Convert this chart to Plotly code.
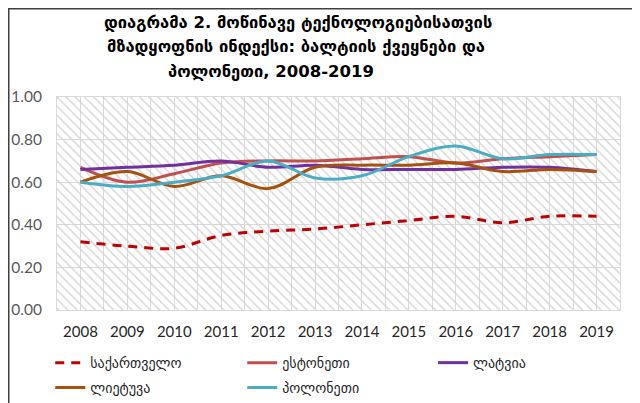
import plotly.graph_objects as go

years = [2008, 2009, 2010, 2011, 2012, 2013, 2014, 2015, 2016, 2017, 2018, 2019]

georgia = [0.32, 0.30, 0.29, 0.35, 0.37, 0.38, 0.40, 0.42, 0.44, 0.41, 0.44, 0.44]
estonia = [0.67, 0.60, 0.64, 0.69, 0.70, 0.70, 0.71, 0.72, 0.69, 0.71, 0.72, 0.73]
latvia = [0.66, 0.67, 0.68, 0.70, 0.67, 0.68, 0.66, 0.66, 0.66, 0.67, 0.67, 0.65]
lithuania = [0.60, 0.65, 0.58, 0.63, 0.57, 0.67, 0.68, 0.68, 0.69, 0.65, 0.66, 0.65]
poland = [0.60, 0.58, 0.60, 0.63, 0.70, 0.62, 0.63, 0.72, 0.77, 0.71, 0.73, 0.73]

names = ["საქართველო", "ესტონეთი", "ლატვია", "ლიეტუვა", "პოლონეთი"]
series = [georgia, estonia, latvia, lithuania, poland]
colors = ["#C00000", "#C0504D", "#7030A0", "#A5520F", "#4BACC6"]
dashes = ["9px,7px", "solid", "solid", "solid", "solid"]

title_lines = ["დიაგრამა 2. მოწინავე ტექნოლოგიებისათვის",
               "მზადყოფნის ინდექსი: ბალტიის ქვეყნები და",
               "პოლონეთი, 2008-2019"]

fig = go.Figure()

# hatched plot area background
fig.add_trace(go.Bar(
    x=[sum(years) / len(years)], y=[1], width=[len(years)],
    marker=dict(color="white", line_width=0,
                pattern=dict(shape="\\", fillmode="replace", bgcolor="rgba(255,255,255,0)",
                             fgcolor="#D2D2D2", size=6.5, solidity=0.2)),
    showlegend=False, hoverinfo="skip"))

# legend slots (x, y in paper coords)
slots = [(-0.012, -0.249), (0.329, -0.249), (0.668, -0.249), (-0.012, -0.366), (0.329, -0.366)]
legend_ids = ["legend", "legend2", "legend3", "legend4", "legend5"]

for name, vals, col, dsh, lid in zip(names, series, colors, dashes, legend_ids):
    fig.add_trace(go.Scatter(
        x=years, y=vals, name=name, mode="lines",
        line=dict(color=col, width=3, dash=dsh, shape="spline", smoothing=1),
        legend=lid))

layout_legends = {}
for lid, (lx, ly) in zip(legend_ids, slots):
    layout_legends[lid] = dict(x=lx, y=ly, xanchor="left", yanchor="middle",
                               bgcolor="rgba(0,0,0,0)",
                               font=dict(family="DejaVu Sans", size=14, color="#262626"))

# page body has an 8px margin, so the figure is shifted up/left by that much
fig.update_layout(
    width=640, height=403,
    margin=dict(l=49, r=28, t=89, b=101, autoexpand=False),
    paper_bgcolor="white", plot_bgcolor="white",
    showlegend=True,
    **layout_legends,
)

# title, one annotation per line
for txt, tx, ty in zip(title_lines, [0.428, 0.425, 0.38], [1.35, 1.235, 1.122]):
    fig.add_annotation(text=txt, x=tx, y=ty, xref="paper", yref="paper",
                       xanchor="center", yanchor="middle", showarrow=False,
                       font=dict(family="DejaVu Sans", size=16.5, color="#000000", weight="bold"))

fig.update_xaxes(
    range=[years[0] - 0.5, years[-1] + 0.5], tickvals=years,
    showgrid=True, gridcolor="#D9D9D9", gridwidth=1,
    minor=dict(tick0=years[0] - 0.5, dtick=1, showgrid=True, gridcolor="#D9D9D9"),
    showline=True, linecolor="#D9D9D9", mirror=True, ticks="",
    tickfont=dict(family="Lato, Open Sans", size=15, color="#262626"),
    zeroline=False, ticklabelstandoff=8,
)
fig.update_yaxes(
    range=[0, 1], dtick=0.2, tickformat=".2f",
    showgrid=True, gridcolor="#D9D9D9", gridwidth=1,
    showline=True, linecolor="#D9D9D9", mirror=True, ticks="",
    tickfont=dict(family="Lato, Open Sans", size=15.5, color="#595959"),
    zeroline=False, ticklabelstandoff=11,
)

# outer chart frame (left/top edges kept just inside the figure)
fig.add_shape(type="rect", xref="paper", yref="paper",
              x0=-0.0857, x1=1.0266, y0=-0.6, y1=1.414,
              line=dict(color="#404040", width=1.5), fillcolor="rgba(0,0,0,0)", layer="above")

fig.write_html("out.html")
